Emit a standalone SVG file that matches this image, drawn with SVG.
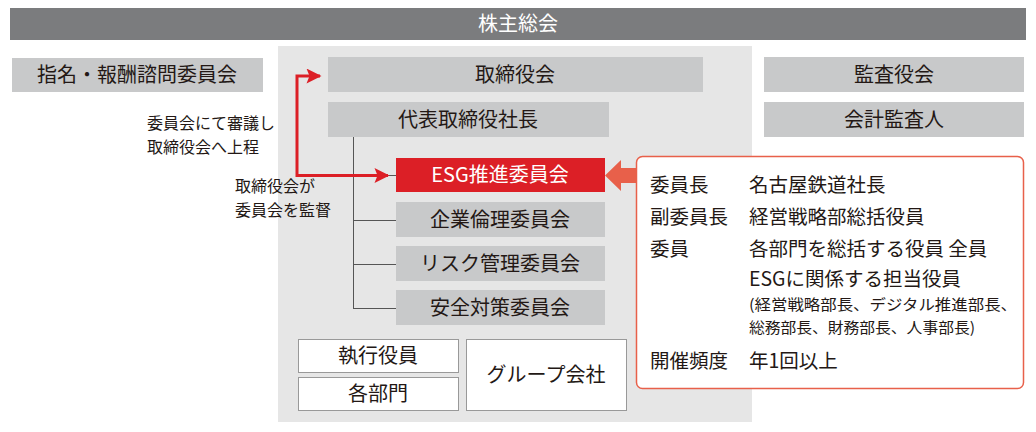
<svg xmlns="http://www.w3.org/2000/svg" width="1036" height="432" viewBox="0 0 1036 432">
<style>
text{font-family:"Noto Sans CJK JP","Noto Sans",sans-serif;fill:#231815}
.g{fill:#c8c9ca}
.w{fill:#fff;stroke:#999;stroke-width:1}
.t{font-size:20px;text-anchor:middle}
.s{font-size:16px}
.p{font-size:15px}
.r{font-size:19.5px}
</style>
<defs>
<marker id="ar" viewBox="0 0 10 10" refX="9" refY="5" markerWidth="6" markerHeight="5" orient="auto" markerUnits="strokeWidth"><path d="M0,0L10,5L0,10L2,5Z" fill="#dc1f26"/></marker>
</defs>
<rect x="278" y="46" width="474" height="376" fill="#e6e6e6"/>
<g id="shareholders"><rect x="10" y="8" width="1016" height="32" fill="#7b7c7e"/><text x="518" y="31" class="t" style="fill:#fff">株主総会</text></g>
<g id="nomination"><rect class="g" x="12" y="58" width="251" height="34"/><text x="137" y="82" class="t">指名・報酬諮問委員会</text></g>
<g id="board"><rect class="g" x="328" y="57" width="375" height="35"/><text x="515" y="82" class="t">取締役会</text></g>
<g id="president"><rect class="g" x="328" y="102" width="281" height="35"/><text x="468" y="127" class="t">代表取締役社長</text></g>
<g id="esg"><rect x="396" y="158" width="209" height="34" fill="#dc1f26"/><text x="500" y="182" class="t" style="fill:#fff">ESG推進委員会</text></g>
<g id="ethics"><rect class="g" x="396" y="202" width="209" height="35"/><text x="500" y="227" class="t">企業倫理委員会</text></g>
<g id="risk"><rect class="g" x="396" y="246" width="209" height="35"/><text x="500" y="271" class="t">リスク管理委員会</text></g>
<g id="safety"><rect class="g" x="396" y="290" width="209" height="35"/><text x="500" y="315" class="t">安全対策委員会</text></g>
<g id="audit"><rect class="g" x="764" y="57" width="260" height="35"/><text x="894" y="82" class="t">監査役会</text></g>
<g id="accountant"><rect class="g" x="764" y="102" width="260" height="35"/><text x="894" y="127" class="t">会計監査人</text></g>
<g id="officers"><rect class="w" x="298.5" y="339.5" width="160" height="33"/><text x="378" y="363" class="t">執行役員</text></g>
<g id="depts"><rect class="w" x="298.5" y="377.5" width="160" height="33"/><text x="378" y="401" class="t">各部門</text></g>
<g id="group"><rect class="w" x="466.5" y="339.5" width="160" height="71"/><text x="546" y="382" class="t">グループ会社</text></g>
<g id="info">
<rect x="636.5" y="156.5" width="387" height="232" rx="6" fill="#fff" stroke="#e8604a" stroke-width="1.5"/>
<text x="650" y="192" class="r">委員長</text><text x="749" y="192" class="r">名古屋鉄道社長</text>
<text x="650" y="224" class="r">副委員長</text><text x="749" y="224" class="r">経営戦略部総括役員</text>
<text x="650" y="256" class="r">委員</text><text x="749" y="256" class="r">各部門を総括する役員 全員</text>
<text x="749" y="286" class="r">ESGに関係する担当役員</text>
<text x="749" y="310" class="p" textLength="268" lengthAdjust="spacingAndGlyphs">(経営戦略部長、デジタル推進部長、</text>
<text x="749" y="333" class="p" textLength="226" lengthAdjust="spacingAndGlyphs">総務部長、財務部長、人事部長)</text>
<text x="650" y="368" class="r">開催頻度</text><text x="749" y="368" class="r">年1回以上</text>
</g>
<g id="labels">
<text x="147" y="129" class="s">委員会にて審議し</text>
<text x="147" y="153" class="s">取締役会へ上程</text>
<text x="235" y="192" class="s">取締役会が</text>
<text x="235" y="216" class="s">委員会を監督</text>
</g>
<g id="connectors">
<path d="M353.5,137V308M353,175.5H396M353,220.5H396M353,264.5H396M353,308.5H396" stroke="#555" stroke-width="1" fill="none"/>
<path d="M380,175.5H297V76H320" stroke="#dc1f26" stroke-width="3" fill="none" marker-end="url(#ar)"/>
<path d="M297,175.5H388" stroke="#dc1f26" stroke-width="3" fill="none" marker-end="url(#ar)"/>
<path d="M636,168H621V160L605,175.5L621,191V183H636Z" fill="#e8604a"/>
</g>
</svg>
